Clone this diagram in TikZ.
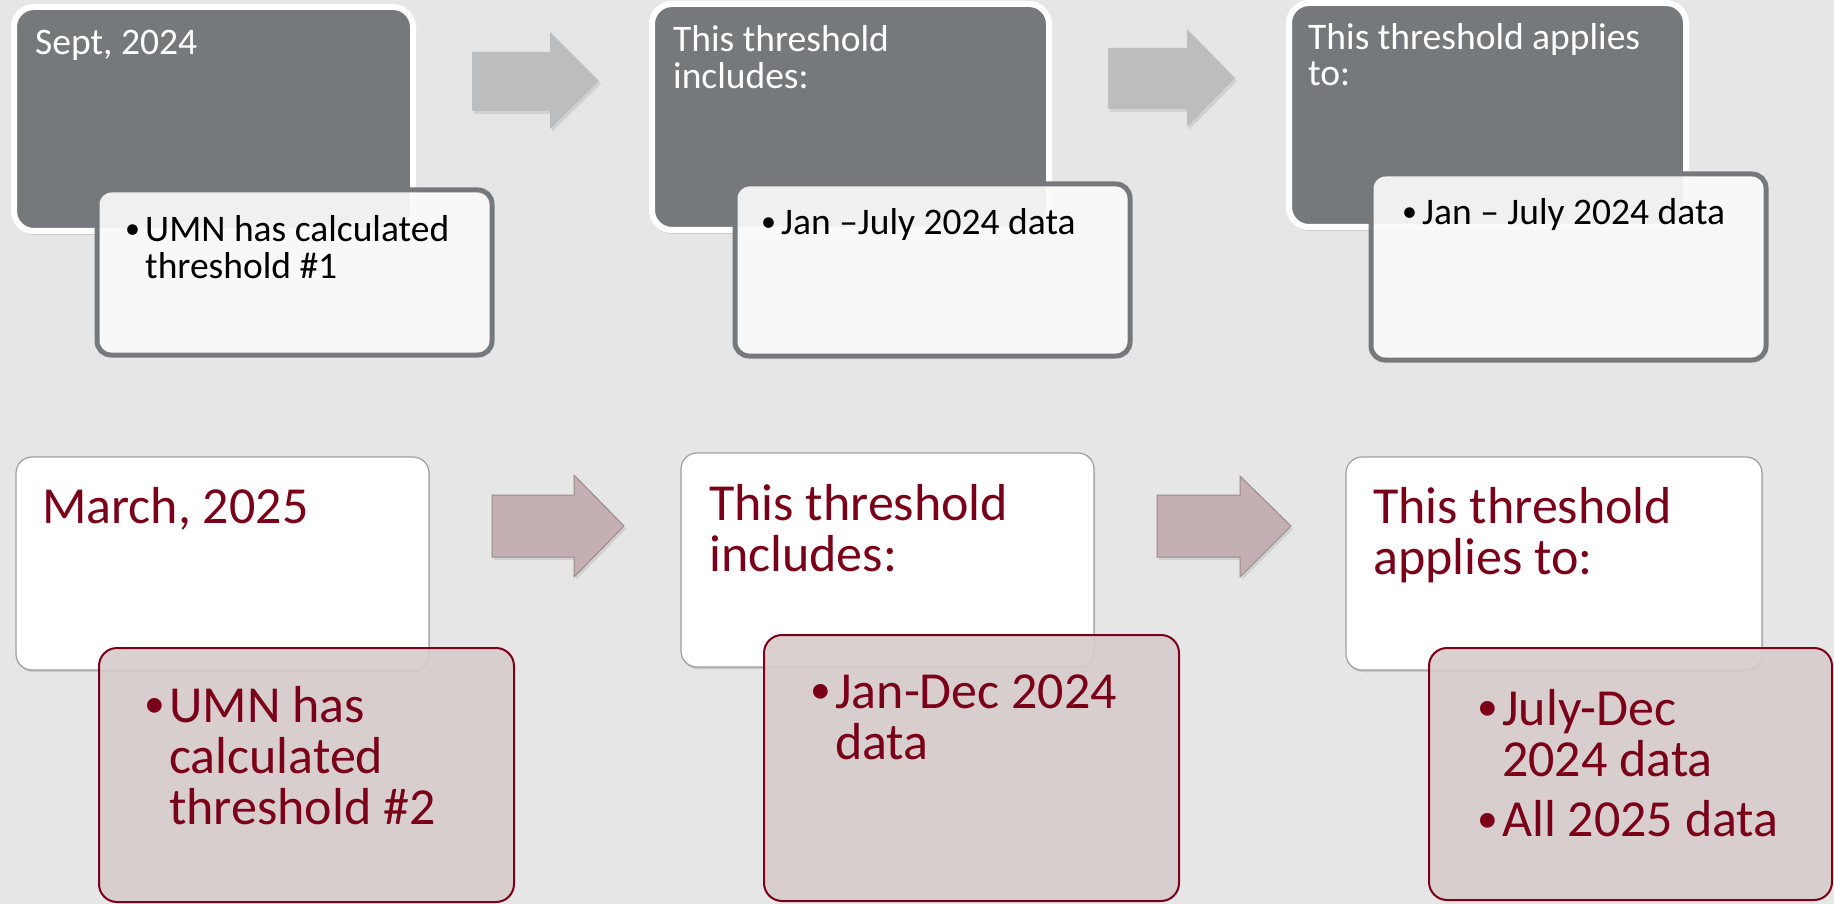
\documentclass[tikz,border=0pt]{standalone}
\usepackage{fontspec}
\setmainfont{Carlito}
\usetikzlibrary{shadows}
\definecolor{pagegray}{HTML}{E6E6E6}
\definecolor{slate}{HTML}{76797C}
\definecolor{notewhite}{HTML}{FAFAFA}
\definecolor{arrowgray}{HTML}{BCBDBF}
\definecolor{maroon}{HTML}{7A0019}
\definecolor{rosefill}{HTML}{D7CCCC}
\definecolor{rosetint}{HTML}{C4AFB2}
\definecolor{rosedge}{HTML}{9C8A8D}
\newlength\bulgap
\newcommand\lines[1]{\begin{tabular}[t]{@{}l@{}}#1\end{tabular}}
\newcommand\bul[1]{\makebox[\bulgap][l]{\raisebox{0.08em}{\scalebox{0.8}{\textbullet}}}\lines{#1}}
\tikzset{
  datebox/.style={rectangle, rounded corners=20pt, fill=slate, draw=white, line width=6pt,
    drop shadow={opacity=0.25, shadow xshift=1pt, shadow yshift=-4pt}},
  notebox/.style={rectangle, rounded corners=14pt, fill=notewhite, fill opacity=0.93, draw=slate, line width=5pt},
  whitebox/.style={rectangle, rounded corners=16pt, fill=white, draw=gray!75, line width=1.2pt,
    drop shadow={opacity=0.3, shadow xshift=1pt, shadow yshift=-2pt}},
  rosebox/.style={rectangle, rounded corners=18pt, fill=rosefill, fill opacity=0.92, draw=maroon, line width=2pt},
  grayarrow/.style={fill=arrowgray, drop shadow={opacity=0.2, shadow xshift=2pt, shadow yshift=-3pt}},
  rosearrow/.style={fill=rosetint, draw=rosedge, line width=1pt, drop shadow={opacity=0.2, shadow xshift=2pt, shadow yshift=-3pt}},
  toptxt/.style={anchor=base west, inner sep=0pt, font=\fontsize{37.5pt}{36pt}\selectfont\setlength\bulgap{20pt}},
  lowtxt/.style={anchor=base west, inner sep=0pt, text=maroon, font=\fontsize{52pt}{51pt}\selectfont\setlength\bulgap{25pt}}
}
\begin{document}
\begin{tikzpicture}[x=1pt, y=-1pt]
  \useasboundingbox (0,0) rectangle (1834,904);
  \fill[pagegray] (0,0) rectangle (1834,904);
  % first threshold
  \node[datebox, minimum width=399pt, minimum height=224pt] (d1) at (213.5,119) {};
  \node[notebox, minimum width=395pt, minimum height=165pt] (n1) at (294.5,272.5) {};
  \node[datebox, minimum width=397pt, minimum height=226pt] (d2) at (850.5,117) {};
  \node[notebox, minimum width=395pt, minimum height=172pt] (n2) at (932.5,270) {};
  \node[datebox, minimum width=397pt, minimum height=224pt] (d3) at (1487.5,115) {};
  \node[notebox, minimum width=395pt, minimum height=186pt] (n3) at (1568.5,267) {};
  \node[toptxt, text=white] (h1) at (35,55) {Sept, 2024};
  \node[toptxt, text=white] (h2) at (673,52) {\lines{This threshold\\includes:}};
  \node[toptxt, text=white] (h3) at (1308,50) {\lines{This threshold applies\\to:}};
  \node[toptxt] (t1) at (125,242) {\bul{UMN has calculated\\threshold \#1}};
  \node[toptxt] (t2) at (761,235) {\bul{Jan –July 2024 data}};
  \node[toptxt] (t3) at (1402,225) {\bul{Jan – July 2024 data}};
  \fill[grayarrow] (472,52) -- (550,52) -- (550,32) -- (599,81) -- (550,129) -- (550,111) -- (472,111) -- cycle;
  \fill[grayarrow] (1108,48) -- (1187,48) -- (1187,29) -- (1235,78) -- (1187,127) -- (1187,109) -- (1108,109) -- cycle;
  % second threshold
  \node[whitebox, minimum width=413pt, minimum height=213pt] (m4) at (222.5,563.5) {};
  \node[rosebox, minimum width=415pt, minimum height=254pt] (p4) at (306.5,775) {};
  \node[whitebox, minimum width=413pt, minimum height=214pt] (m5) at (887.5,560) {};
  \node[rosebox, minimum width=415pt, minimum height=266pt] (p5) at (971.5,768) {};
  \node[whitebox, minimum width=416pt, minimum height=213pt] (m6) at (1554,563.5) {};
  \node[rosebox, minimum width=403pt, minimum height=252pt] (p6) at (1630.5,774) {};
  \node[lowtxt] (h4) at (42,523) {March, 2025};
  \node[lowtxt] (h5) at (709,520) {\lines{This threshold\\includes:}};
  \node[lowtxt] (h6) at (1373,523) {\lines{This threshold\\applies to:}};
  \node[lowtxt] (t4) at (144,722) {\bul{UMN has\\calculated\\threshold \#2}};
  \node[lowtxt] (t5) at (810,708) {\bul{Jan-Dec 2024\\data}};
  \node[lowtxt] (t6) at (1477,725) {\lines{\bul{July-Dec\\2024 data}\\[60pt]\bul{All 2025 data}}};
  \filldraw[rosearrow] (492,495) -- (574,495) -- (574,475) -- (624,526) -- (574,577) -- (574,557) -- (492,557) -- cycle;
  \filldraw[rosearrow] (1157,495) -- (1240,495) -- (1240,476) -- (1291,526) -- (1240,577) -- (1240,557) -- (1157,557) -- cycle;
\end{tikzpicture}
\end{document}
